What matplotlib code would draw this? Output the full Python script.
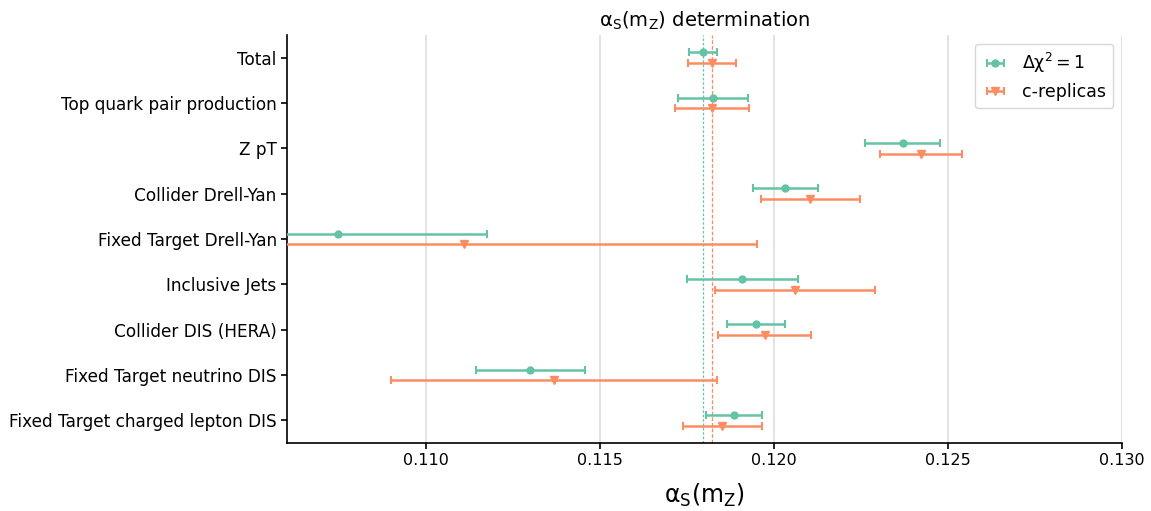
import matplotlib
matplotlib.use("Agg")
import matplotlib.pyplot as plt
import numpy as np

categories = ["Total", "Top quark pair production", "Z pT", "Collider Drell-Yan",
              "Fixed Target Drell-Yan", "Inclusive Jets", "Collider DIS (HERA)",
              "Fixed Target neutrino DIS", "Fixed Target charged lepton DIS"]

# Delta chi^2 = 1 series
dchi_val = [0.11797, 0.11824, 0.12370, 0.12032, 0.10746, 0.11909, 0.11947, 0.11297, 0.11884]
dchi_lo  = [0.11756, 0.11724, 0.12262, 0.11940, 0.10318, 0.11750, 0.11864, 0.11142, 0.11805]
dchi_hi  = [0.11837, 0.11924, 0.12478, 0.12125, 0.11174, 0.12070, 0.12032, 0.11455, 0.11964]

# c-replicas series
crep_val = [0.11821, 0.11821, 0.12422, 0.12103, 0.11110, 0.12059, 0.11973, 0.11367, 0.11851]
crep_lo  = [0.11753, 0.11714, 0.12303, 0.11961, 0.10270, 0.11831, 0.11840, 0.10900, 0.11739]
crep_hi  = [0.11891, 0.11929, 0.12540, 0.12247, 0.11951, 0.12289, 0.12107, 0.11835, 0.11964]

xticks = [0.110, 0.115, 0.120, 0.125, 0.130]

green = "#66c2a5"
orange = "#fc8d62"

fig = plt.figure(figsize=(11.51, 5.11), dpi=100)
ax = fig.add_axes([0.2494, 0.1331, 0.7254, 0.7984])

y = np.arange(len(categories))
off = 0.12

dv = np.array(dchi_val); cv = np.array(crep_val)
derr = [dv - np.array(dchi_lo), np.array(dchi_hi) - dv]
cerr = [cv - np.array(crep_lo), np.array(crep_hi) - cv]

ax.errorbar(dv, y - off, xerr=derr, fmt="o", color=green, ms=5, elinewidth=1.8,
            capsize=3, capthick=1.5, label=r"$\mathrm{\Delta\chi^2=1}$", zorder=3)
ax.errorbar(cv, y + off, xerr=cerr, fmt="v", color=orange, ms=5.5, elinewidth=1.8,
            capsize=3, capthick=1.5, label="c-replicas", zorder=3)

ax.axvline(dchi_val[0], color=green, ls=(0, (2, 1.5)), lw=0.9, zorder=2)
ax.axvline(crep_val[0], color=orange, ls=(0, (3, 1.5)), lw=0.9, zorder=2)

ax.set_xlim(0.106, 0.130)
ax.set_ylim(len(categories) - 0.5, -0.5)
ax.set_yticks(y)
ax.set_yticklabels(categories, fontsize=12.2)
ax.set_xticks(xticks)
ax.set_xticklabels([f"{t:.3f}" for t in xticks], fontsize=11.5)
ax.grid(axis="x", color="#dddddd", lw=1.2, zorder=0)
ax.set_axisbelow(True)
for s in ["top", "right"]:
    ax.spines[s].set_visible(False)
ax.spines["left"].set_linewidth(1.2)
ax.spines["bottom"].set_linewidth(1.2)
ax.tick_params(axis="both", width=1.2, length=4)

ax.set_title(r"$\mathrm{\alpha_S(m_Z)}$ determination", fontsize=14)
ax.set_xlabel(r"$\mathrm{\alpha_S(m_Z)}$", fontsize=17, labelpad=10)
ax.legend(loc="upper right", fontsize=12.5, handlelength=1.5)

fig.savefig("out.png", dpi=100)
